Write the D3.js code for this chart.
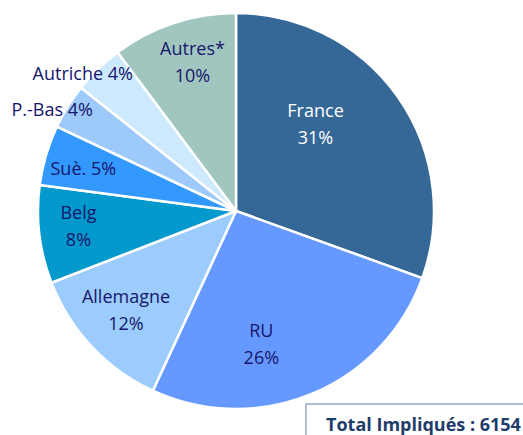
<!DOCTYPE html>
<html>
<head>
<meta charset="utf-8">
<title>Impliqués par pays</title>
<script src="https://d3js.org/d3.v7.min.js"></script>
<style>
  body { margin: 0; background: #fff; }
  svg { display: block; font-family: "Open Sans", sans-serif; }
</style>
</head>
<body>
<div id="chart"></div>
<script>
// parts (en %)
var pays = ["France", "RU", "Allemagne", "Belg", "Suè.", "P.-Bas", "Autriche", "Autres*"]
var parts = [30.5, 26.4, 12.2, 8.0, 4.9, 3.7, 4.1, 10.2]
var couleurs = ["#356897", "#6699FF", "#9BCCFD", "#0399CC", "#3399FF", "#9ECAFB", "#CDE9FD", "#A0C6BF"]
var total = 6154

var W = 523, H = 435
var cx = 236, cy = 211, r = 198

var svg = d3.select("#chart").append("svg")
    .attr("width", W).attr("height", H)

var data = pays.map(function(p, i) { return { pays: p, part: parts[i], couleur: couleurs[i] } })

var pie = d3.pie().sort(null).value(function(d) { return d.part })
var arc = d3.arc().innerRadius(0).outerRadius(r)

var g = svg.append("g").attr("transform", "translate(" + cx + "," + cy + ")")
var arcs = pie(data)

g.selectAll("path")
    .data(arcs)
  .enter().append("path")
    .attr("d", arc)
    .attr("fill", function(d) { return d.data.couleur })
    .attr("stroke", "#fff")
    .attr("stroke-width", 2.5)
    .attr("stroke-linejoin", "round")

// placement des étiquettes : rayon relatif + petit décalage d'angle (à la Excel)
var place = {
  "France":    { k: 0.59, da: -12, deux: true },
  "RU":        { k: 0.69, da: 12, deux: true },
  "Allemagne": { k: 0.75, da: 1, deux: true },
  "Belg":      { k: 0.80, da: 1, deux: true },
  "Suè.":      { k: 0.80, da: -1, deux: false },
  "P.-Bas":    { k: 1.06, da: -3, deux: false },
  "Autriche":  { k: 1.04, da: -4, deux: false },
  "Autres*":   { k: 0.78, da: 2, deux: true }
}

var lab = g.selectAll("text.lab")
    .data(arcs)
  .enter().append("text")
    .attr("class", "lab")
    .attr("text-anchor", "middle")
    .attr("font-size", 18)
    .attr("fill", function(d) { return d.data.pays == "France" ? "#fff" : "#16166B" })
    .attr("transform", function(d) {
      var p = place[d.data.pays]
      var a = (d.startAngle + d.endAngle) / 2 + p.da * Math.PI / 180
      var rr = p.k * r
      return "translate(" + (rr * Math.sin(a)) + "," + (-rr * Math.cos(a)) + ")"
    })

lab.each(function(d) {
  var t = d3.select(this)
  var pct = Math.round(d.data.part) + "%"
  if (place[d.data.pays].deux) {
    t.append("tspan").attr("x", 0).attr("dy", "-0.45em").text(d.data.pays)
    t.append("tspan").attr("x", 0).attr("dy", "1.5em").text(pct)
  } else {
    t.append("tspan").attr("x", 0).attr("dy", "0.35em").text(d.data.pays + " " + pct)
  }
})

// encadré total
svg.append("rect")
    .attr("x", 306).attr("y", 404)
    .attr("width", 240).attr("height", 60)
    .attr("fill", "#fff")
    .attr("stroke", "#AFC0D6")
    .attr("stroke-width", 2)

svg.append("text")
    .attr("x", 326).attr("y", 431)
    .attr("font-size", 18)
    .attr("font-weight", "bold")
    .attr("fill", "#1F3C6A")
    .text("Total Impliqués : " + total)
</script>
</body>
</html>
